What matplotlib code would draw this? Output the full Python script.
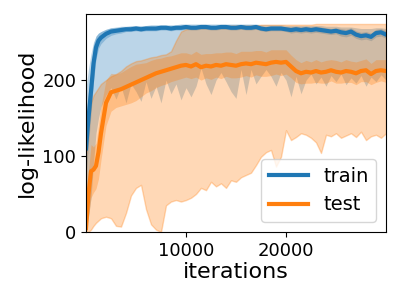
import matplotlib
matplotlib.use("Agg")
import matplotlib.pyplot as plt
import numpy as np

iterations = [0, 250, 500, 750, 1000, 1250] + list(range(1500, 30001, 500))

train_mean = [110, 150, 185, 222, 243, 252, 256, 261, 264, 265,
              266, 267, 267, 268, 267, 268, 268, 268, 269, 269,
              268, 269, 269, 270, 269, 269, 270, 270, 269, 269,
              270, 270, 269, 269, 270, 269, 269, 270, 268, 267,
              268, 268, 268, 267, 266, 267, 266, 267, 266, 267,
              266, 265, 264, 265, 263, 262, 264, 260, 258, 259,
              257, 262, 263, 260]
train_std = [40, 35, 30, 25, 15, 10, 8, 6, 5, 4,
             4, 3, 3, 3, 3, 3, 3, 3, 3, 3,
             3, 3, 3, 3, 3, 3, 3, 3, 3, 3,
             3, 3, 3, 3, 3, 3, 3, 3, 3, 3,
             3, 3, 3, 3, 4, 4, 4, 4, 4, 4,
             4, 4, 4, 4, 5, 5, 5, 5, 5, 5,
             5, 5, 5, 5]
train_max = [190, 215, 235, 250, 258, 262, 264, 267, 269, 270,
             271, 271, 272, 272, 272, 272, 273, 273, 273, 273,
             273, 273, 274, 274, 274, 274, 274, 274, 274, 274,
             274, 274, 274, 274, 274, 274, 274, 274, 273, 273,
             273, 273, 273, 272, 272, 272, 272, 272, 272, 272,
             272, 271, 271, 271, 270, 270, 270, 269, 268, 268,
             268, 269, 269, 268]
train_min = [10, 20, 45, 90, 130, 150, 165, 180, 190, 175,
             192, 170, 195, 185, 172, 198, 176, 192, 170, 200,
             182, 195, 174, 190, 178, 192, 216, 195, 181, 200,
             210, 198, 185, 176, 214, 181, 214, 195, 205, 214,
             205, 192, 210, 200, 178, 205, 182, 200, 208, 195,
             204, 192, 206, 198, 208, 194, 203, 196, 206, 192,
             204, 198, 207, 200]

test_mean = [5, 50, 80, 82, 87, 105, 130, 170, 184, 186,
             188, 191, 194, 197, 200, 203, 206, 209, 211, 213,
             215, 217, 219, 220, 218, 221, 217, 219, 218, 220,
             219, 221, 220, 219, 221, 222, 221, 223, 222, 221,
             223, 224, 223, 224, 218, 212, 209, 211, 210, 212,
             210, 211, 213, 211, 210, 212, 211, 209, 212, 213,
             208, 212, 213, 212]
test_std = [5, 30, 35, 30, 30, 35, 35, 30, 25, 22,
            22, 23, 24, 24, 22, 20, 20, 19, 18, 18,
            17, 17, 17, 16, 16, 17, 17, 16, 17, 16,
            17, 16, 17, 16, 17, 16, 17, 16, 17, 16,
            17, 16, 17, 16, 15, 15, 14, 15, 14, 15,
            14, 15, 14, 15, 14, 15, 14, 15, 14, 15,
            14, 15, 14, 15]
test_max = [100, 150, 170, 180, 185, 190, 195, 200, 205, 208,
            212, 218, 222, 225, 226, 228, 230, 231, 233, 234,
            238, 252, 264, 267, 268, 269, 270, 270, 271, 271,
            271, 271, 272, 272, 272, 272, 272, 272, 273, 273,
            273, 273, 273, 273, 273, 273, 273, 273, 273, 274,
            274, 274, 274, 274, 274, 274, 274, 274, 274, 274,
            274, 274, 274, 274]
test_min = [0, 0, 3, 8, 12, 15, 18, 20, 18, 8,
            7, 25, 48, 58, 62, 30, 10, 3, 0, 35,
            40, 42, 40, 42, 45, 50, 58, 55, 66, 60,
            64, 58, 68, 66, 72, 75, 78, 88, 99, 105,
            108, 86, 99, 134, 121, 125, 130, 128, 124, 118,
            104, 128, 126, 130, 124, 127, 130, 125, 132, 121,
            126, 128, 124, 130]

x = np.array(iterations)
tm, ts = np.array(train_mean), np.array(train_std)
em, es = np.array(test_mean), np.array(test_std)

fig = plt.figure(figsize=(4, 3), dpi=100)
ax = fig.add_axes([0.215, 0.227, 0.75, 0.726])

blue, orange = "#1f77b4", "#ff7f0e"
ax.fill_between(x, train_min, train_max, color=blue, alpha=0.3, lw=0)
ax.fill_between(x, tm - ts, tm + ts, color=blue, alpha=0.3, lw=0)
ax.fill_between(x, test_min, test_max, color=orange, alpha=0.3, lw=1)
ax.fill_between(x, em - es, em + es, color=orange, alpha=0.3, lw=0)
ax.plot(x, tm, color=blue, lw=3, label="train")
ax.plot(x, em, color=orange, lw=3, label="test")

ax.set_xlim(0, 30000)
ax.set_ylim(0, 287)
ax.set_xticks([10000, 20000])
ax.set_yticks([0, 100, 200])
ax.tick_params(labelsize=13)
ax.set_xlabel("iterations", fontsize=16, labelpad=2)
ax.set_ylabel("log-likelihood", fontsize=16)
ax.legend(loc="lower right", fontsize=14)

fig.savefig("out.png", dpi=100)
